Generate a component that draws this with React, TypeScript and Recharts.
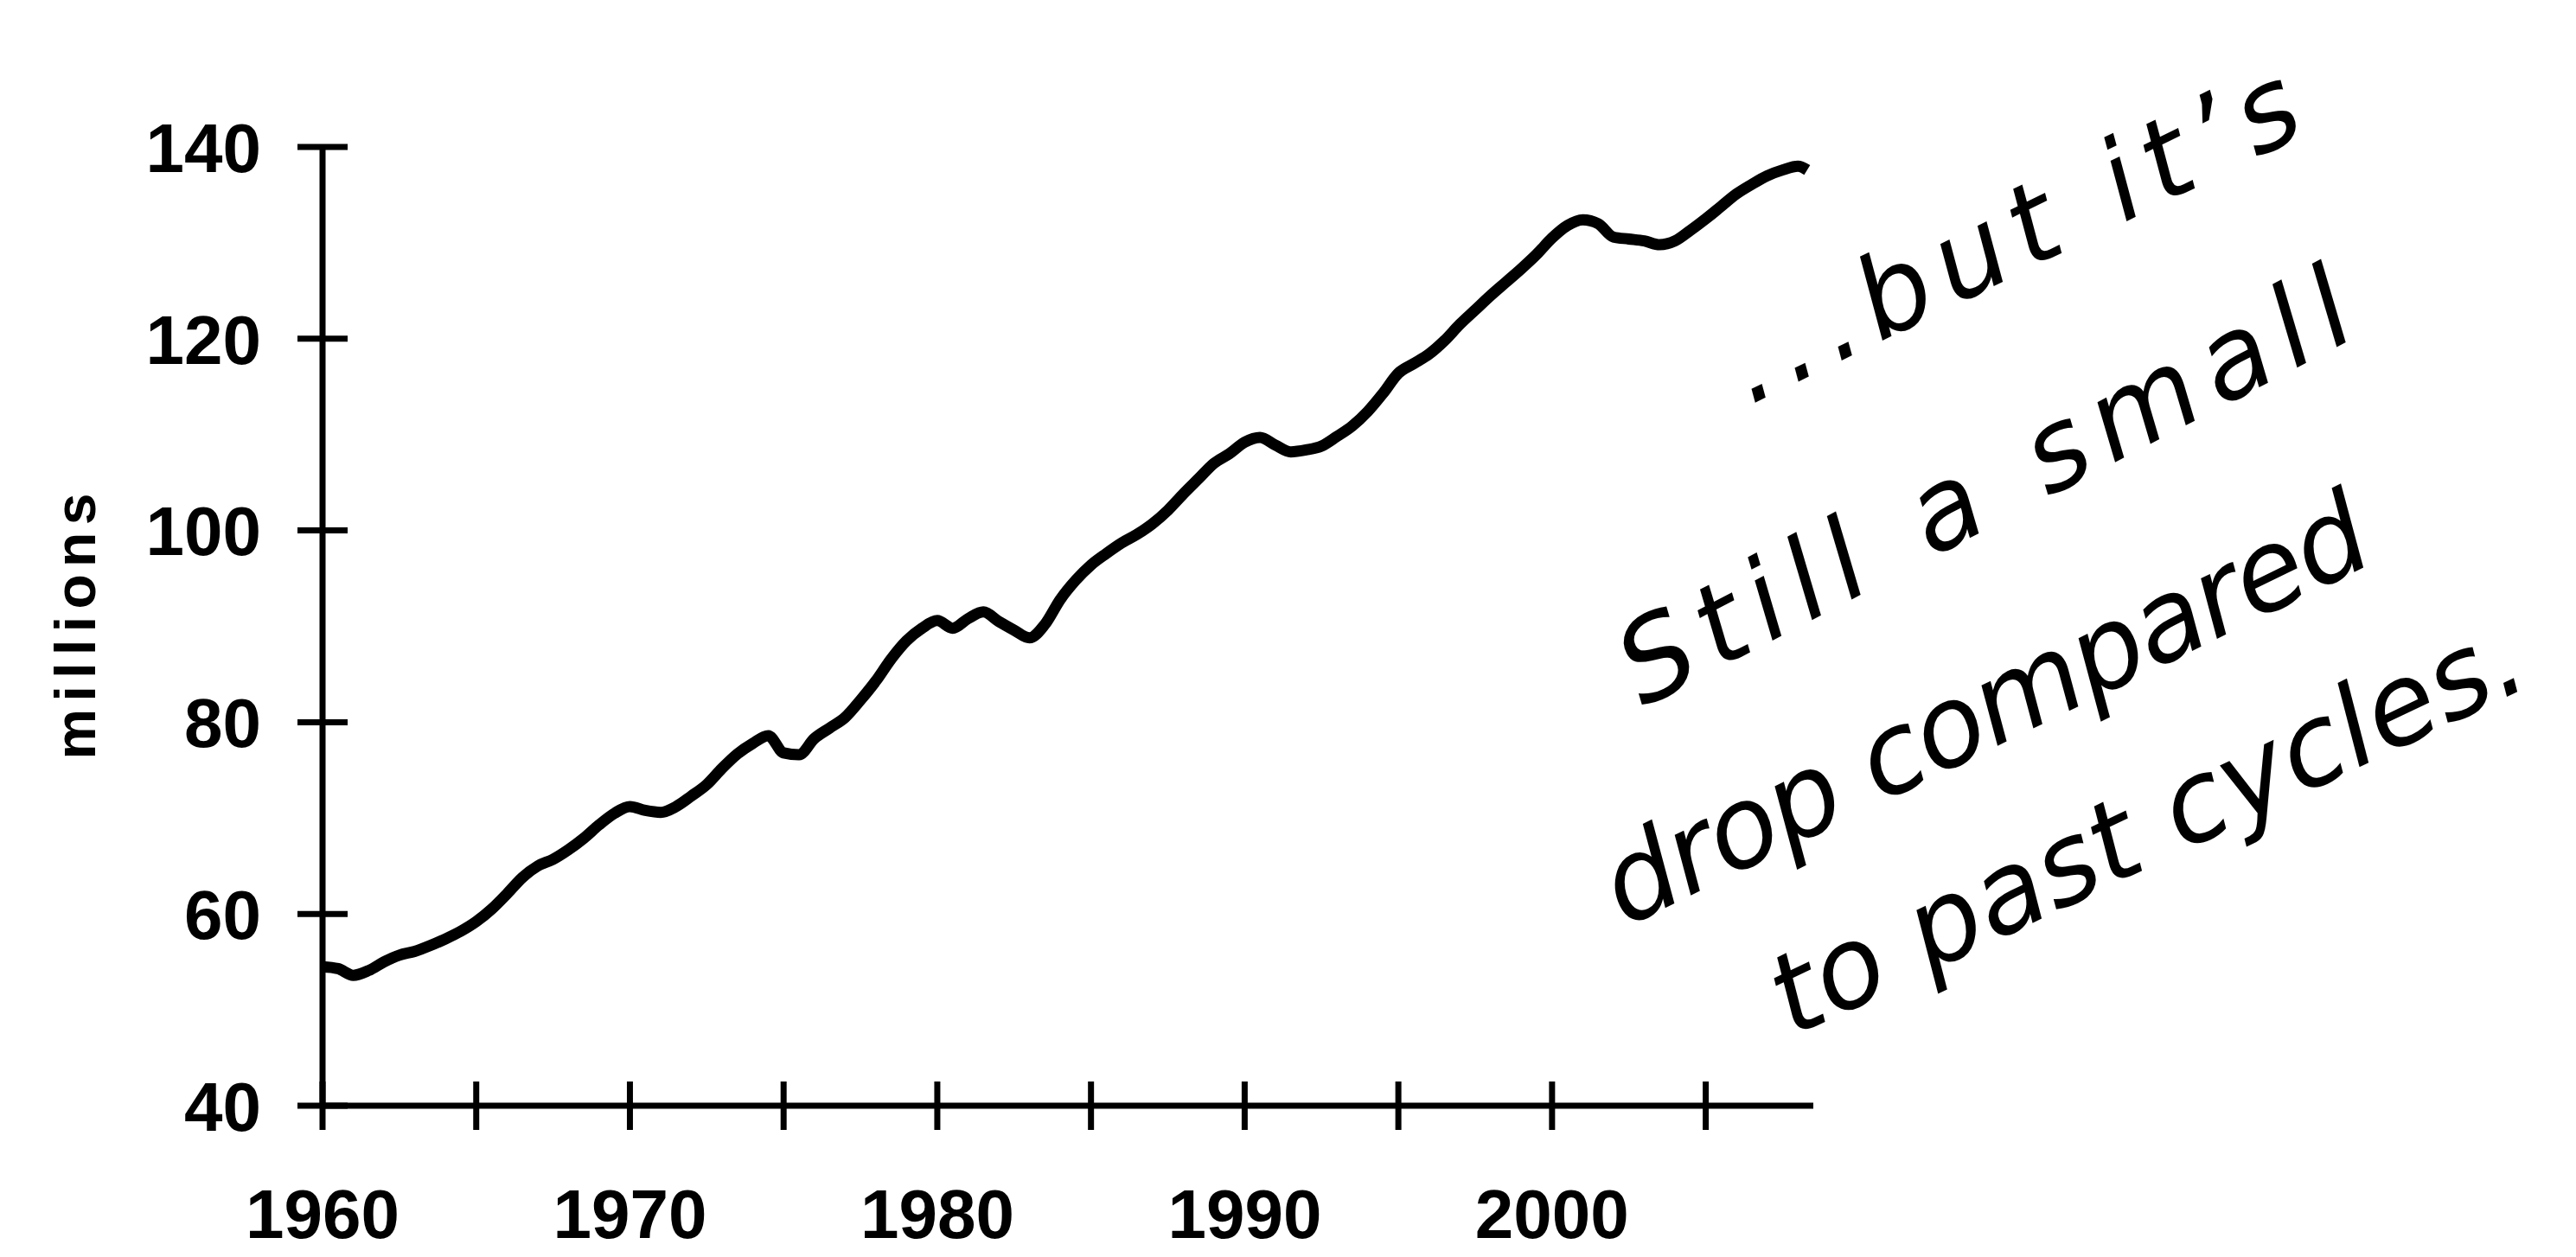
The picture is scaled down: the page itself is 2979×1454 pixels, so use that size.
import React from 'react';
import { LineChart, Line, XAxis, YAxis } from 'recharts';

// semi-annual points, millions of jobs
const years = [
  1960, 1960.5, 1961, 1961.5, 1962, 1962.5, 1963, 1963.5, 1964, 1964.5,
  1965, 1965.5, 1966, 1966.5, 1967, 1967.5, 1968, 1968.5, 1969, 1969.5,
  1970, 1970.5, 1971, 1971.5, 1972, 1972.5, 1973, 1973.5, 1974, 1974.5,
  1975, 1975.5, 1976, 1976.5, 1977, 1977.5, 1978, 1978.5, 1979, 1979.5,
  1980, 1980.5, 1981, 1981.5, 1982, 1982.5, 1983, 1983.5, 1984, 1984.5,
  1985, 1985.5, 1986, 1986.5, 1987, 1987.5, 1988, 1988.5, 1989, 1989.5,
  1990, 1990.5, 1991, 1991.5, 1992, 1992.5, 1993, 1993.5, 1994, 1994.5,
  1995, 1995.5, 1996, 1996.5, 1997, 1997.5, 1998, 1998.5, 1999, 1999.5,
  2000, 2000.5, 2001, 2001.5, 2002, 2002.5, 2003, 2003.5, 2004, 2004.5,
  2005, 2005.5, 2006, 2006.5, 2007, 2007.5, 2008, 2008.3,
];

const employment = [
  54.5, 54.3, 53.6, 54.1, 55.0, 55.7, 56.1, 56.7, 57.4, 58.2,
  59.2, 60.5, 62.1, 63.8, 65.0, 65.7, 66.7, 67.9, 69.3, 70.5,
  71.2, 70.8, 70.6, 71.2, 72.3, 73.5, 75.2, 76.7, 77.8, 78.6,
  76.8, 76.6, 78.3, 79.4, 80.5, 82.3, 84.3, 86.6, 88.5, 89.8,
  90.6, 89.8, 90.8, 91.5, 90.5, 89.6, 88.8, 90.2, 92.8, 94.8,
  96.4, 97.6, 98.7, 99.6, 100.7, 102.1, 103.8, 105.4, 107.0, 108.0,
  109.2, 109.7, 108.9, 108.2, 108.4, 108.8, 109.8, 110.9, 112.4, 114.3,
  116.4, 117.4, 118.4, 119.8, 121.5, 123.0, 124.5, 125.9, 127.3, 128.8,
  130.5, 131.8, 132.4, 132.0, 130.6, 130.4, 130.2, 129.8, 130.2, 131.3,
  132.5, 133.8, 135.1, 136.1, 137.0, 137.6, 138.0, 137.6,
];

const xTicks = [1960, 1965, 1970, 1975, 1980, 1985, 1990, 1995, 2000, 2005];
const yTicks = [40, 60, 80, 100, 120, 140];

const noteLines = ['...but it\u2019s', 'Still a small', 'drop compared', 'to past cycles.'];

const data = years.map((year, i) => ({ year, value: employment[i] }));

const axisFont = '"Liberation Sans", Arial, sans-serif';

function XTick(props: any) {
  const { x, y, payload } = props;
  return (
    <g>
      <line x1={x} x2={x} y1={y - 28} y2={y + 28} stroke="#000" strokeWidth={7} />
      {payload.value % 10 === 0 && (
        <text x={x} y={y + 153} textAnchor="middle" fontFamily={axisFont} fontWeight="bold" fontSize={80} fill="#000">
          {payload.value}
        </text>
      )}
    </g>
  );
}

function YTick(props: any) {
  const { x, y, payload } = props;
  return (
    <g>
      <line x1={x - 29} x2={x + 29} y1={y} y2={y} stroke="#000" strokeWidth={7} />
      <text x={x - 71} y={y} dy="0.36em" textAnchor="end" fontFamily={axisFont} fontWeight="bold" fontSize={80} fill="#000">
        {payload.value}
      </text>
    </g>
  );
}

function YLabel(props: any) {
  const vb = props.viewBox || { x: 0, y: 0, width: 0, height: 0 };
  const cx = vb.x + 102;
  const cy = vb.y + vb.height / 2;
  return (
    <text
      transform={`translate(${cx}, ${cy}) rotate(-90)`}
      textAnchor="middle"
      fontFamily={axisFont}
      fontWeight="bold"
      fontSize={66}
      textLength={308}
      lengthAdjust="spacing"
      fill="#000"
    >
      millions
    </text>
  );
}

// baseline start x, y, line length, angle of each handwritten line
const noteStarts = [
  [2015, 461, 720, -26],
  [1892, 811, 936, -27.5],
  [1871, 1065, 969, -26],
  [2065, 1192, 949, -25.5],
];

export default function App() {
  return (
    <div style={{ position: 'relative', width: 2960, height: 1440, background: '#fff' }}>
      <LineChart width={2960} height={1440} data={data} margin={{ top: 162, right: 871, left: 0, bottom: 0 }}>
        <XAxis
          dataKey="year"
          type="number"
          domain={[1960, 2008.5]}
          ticks={xTicks}
          tick={<XTick />}
          tickSize={0}
          tickMargin={0}
          tickLine={false}
          axisLine={{ stroke: '#000', strokeWidth: 7 }}
          height={169}
          allowDataOverflow
        />
        <YAxis
          type="number"
          domain={[40, 140]}
          ticks={yTicks}
          tick={<YTick />}
          tickSize={0}
          tickMargin={0}
          tickLine={false}
          axisLine={{ stroke: '#000', strokeWidth: 7 }}
          width={365}
          label={<YLabel />}
        />
        <Line
          type="monotone"
          dataKey="value"
          stroke="#000"
          strokeWidth={13}
          dot={false}
          isAnimationActive={false}
        />
      </LineChart>

      {/* handwritten note */}
      <svg width={2960} height={1440} style={{ position: 'absolute', left: 0, top: 0, pointerEvents: 'none' }}>
        {noteLines.map((line, i) => {
          const [sx, sy, len, angle] = noteStarts[i];
          return (
            <text
              key={i}
              x={sx}
              y={sy}
              transform={`rotate(${angle}, ${sx}, ${sy})`}
              fontFamily='"DejaVu Sans", sans-serif'
              fontStyle="italic"
              fontWeight={200}
              fontSize={130}
              textLength={len}
              lengthAdjust="spacing"
              fill="#000"
            >
              {line}
            </text>
          );
        })}
      </svg>
    </div>
  );
}
